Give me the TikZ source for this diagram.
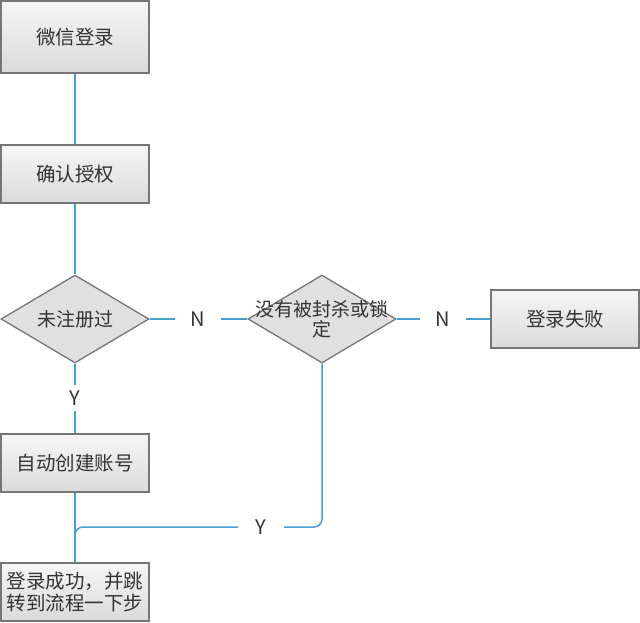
\documentclass[tikz,border=0pt]{standalone}
\usepackage{xcolor}
\usepackage{fontspec}
\newfontfamily\cjk{Noto Sans CJK SC}
\usetikzlibrary{shapes.geometric}

\definecolor{flowblue}{RGB}{72,158,206}
\definecolor{boxedge}{RGB}{118,118,118}
\definecolor{boxtop}{RGB}{246,246,246}
\definecolor{boxbot}{RGB}{218,218,218}
\definecolor{ink}{RGB}{51,51,51}

\tikzset{
  stepbox/.style={draw=boxedge, line width=1.3pt, top color=boxtop, bottom color=boxbot,
    minimum width=148, minimum height=58, inner sep=0pt, align=center, text=ink,
    font=\cjk\fontsize{19.5}{22}\selectfont},
  choice/.style={diamond, draw=boxedge, line width=1.3pt, fill=boxbot!85!white,
    minimum width=148, minimum height=88, inner sep=0pt},
  choicetext/.style={align=center, text=ink, font=\cjk\fontsize{19}{20}\selectfont},
  answer/.style={fill=white, inner sep=0pt, minimum width=46, minimum height=24,
    text=ink, font=\cjk\fontsize{20}{22}\selectfont},
  link/.style={draw=flowblue, line width=1.5pt}
}

\begin{document}
\begin{tikzpicture}[x=1pt,y=-1pt]
        \useasboundingbox (0,0) rectangle (640,622);
        \node[stepbox, minimum height=72] (WX) at (75,37) {微信登录};
        \node[stepbox] (AUTH) at (75,174) {确认授权};
        \node[choice] (REG) at (75,319) {};
        \node[choicetext] at (REG.center) {未注册过};
        \node[choice] (BAN) at (322,319) {};
        \node[choicetext] at (BAN.center) {没有被封杀或锁\\定};
        \node[stepbox] (FAIL) at (565,319) {登录失败};
        \node[stepbox] (NEW) at (75,463) {自动创建账号};
        \node[stepbox] (OK) at (75,592) {登录成功，并跳\\转到流程一下步};

        \node[answer] (N1) at (198,319) {N};
        \node[answer] (N2) at (443,319) {N};
        \node[answer, minimum width=24, minimum height=26] (Y1) at (75,398) {Y};
        \node[answer] (Y2) at (261,527) {Y};

        \draw[link] (WX) -- (AUTH);
        \draw[link] (AUTH) -- (REG);
        \draw[link] (REG) -- (N1) -- (BAN);
        \draw[link] (BAN) -- (N2) -- (FAIL);
        \draw[link] (REG) -- (Y1) -- (NEW);
        \draw[link] (NEW) -- (OK);
        \draw[link, rounded corners=8pt] (BAN.south) |- (Y2.east);
        \draw[link, rounded corners=8pt] (Y2.west) -| (OK.north);
\end{tikzpicture}
\end{document}
